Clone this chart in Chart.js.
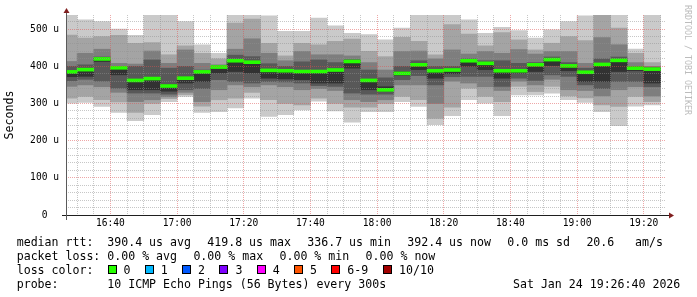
<!DOCTYPE html>
<html>
<head>
<meta charset="utf-8">
<script src="https://cdn.jsdelivr.net/npm/chart.js@4.4.1/dist/chart.umd.min.js"></script>
<style>
html,body{margin:0;padding:0;background:#fff;}
#wrap{position:relative;width:697px;height:297px;overflow:hidden;background:#fff;}
canvas{position:absolute;left:0;top:0;}
.t{position:absolute;font-family:'DejaVu Sans Mono',monospace;font-size:11.58px;line-height:14px;white-space:pre;color:#000;}
.box{position:absolute;width:9px;height:9px;border:1px solid #000;box-sizing:border-box;}
#wm{position:absolute;left:683px;top:5px;font-family:'DejaVu Sans Mono',monospace;font-size:8.3px;line-height:10px;color:#bcbcbc;writing-mode:vertical-rl;white-space:pre;}
</style>
</head>
<body>
<div id="wrap">
<canvas id="c" width="697" height="297"></canvas>
<div id="wm"></div>
</div>
<script>
// ---- data ----
const rangeStart = '16:26:40';
const rangeEnd   = '19:26:40';
const times = ['16:30','16:35','16:40','16:45','16:50','16:55','17:00','17:05','17:10','17:15','17:20','17:25',
               '17:30','17:35','17:40','17:45','17:50','17:55','18:00','18:05','18:10','18:15','18:20','18:25',
               '18:30','18:35','18:40','18:45','18:50','18:55','19:00','19:05','19:10','19:15','19:20','19:25'];
// sorted ping RTTs (microseconds), ping1 = fastest ... ping10 = slowest
const ping1  = [301,303,292,276,254,270,305,319,276,278,288,314,265,270,283,306,280,250,278,278,305,292,243,267,310,301,267,323,323,328,310,303,278,240,293,296];
const ping2  = [314,319,310,304,276,300,313,324,293,310,314,330,310,300,296,314,300,290,290,300,319,310,260,290,341,319,305,346,332,346,320,315,296,292,319,305];
const ping3  = [346,350,345,330,305,310,318,330,305,337,350,345,350,345,337,340,335,310,305,310,350,350,300,360,355,345,335,360,350,365,337,335,320,337,345,320];
const ping4  = [361,365,360,341,328,328,325,337,340,364,359,355,359,358,355,348,346,328,325,325,364,375,350,372,373,373,346,368,362,377,373,350,340,359,359,345];
const ping5  = [372,373,413,377,337,337,333,355,359,382,386,382,368,366,364,355,355,395,337,334,376,391,368,380,400,391,368,382,386,402,388,359,359,386,388,355];
const ping6  = [383,388,421,397,363,368,350,367,386,398,414,412,390,390,388,388,391,414,362,345,385,405,390,390,415,410,390,390,404,420,402,385,406,418,396,394];
const ping7  = [400,404,425,400,400,417,395,400,390,401,430,426,407,400,412,417,410,418,390,369,400,415,400,400,420,415,415,408,410,425,410,395,420,425,400,397];
const ping8  = [413,435,446,408,406,441,408,444,408,404,446,474,435,415,440,431,431,428,410,390,440,441,420,444,433,440,435,445,433,440,440,408,477,458,410,400];
const ping9  = [484,476,480,483,462,464,431,455,435,420,516,527,462,428,462,458,467,473,440,426,478,467,431,512,487,455,491,471,444,462,480,469,537,503,435,410];
const ping10 = [538,525,520,500,483,538,538,520,458,435,538,538,536,494,494,530,509,489,485,471,503,538,538,538,525,489,505,496,476,498,520,536,538,538,446,538];
const median = [385,391,419.8,396,362,367,347,368,385,398,415,411,389,388,386,386,390,413,362,336.7,381,404,388,390,415,408,388,388,404,418,401,384,405,416,395,392.4];
const yMax = 538;
const xTickLabels = ['16:40','17:00','17:20','17:40','18:00','18:20','18:40','19:00','19:20'];
const yTickLabels = ['0','100 u','200 u','300 u','400 u','500 u'];
const yTitle = 'Seconds';
const watermark = 'RRDTOOL / TOBI OETIKER';
const statsLine = ['median rtt:','390.4 us avg','419.8 us max','336.7 us min','392.4 us now','0.0 ms sd','20.6','am/s'];
const lossLine  = ['packet loss:','0.00 % avg','0.00 % max','0.00 % min','0.00 % now'];
const lossColorTitle = 'loss color:';
const lossLabels = ['0','1','2','3','4','5','6-9','10/10'];
const lossColors = ['#26ff00','#00b8ff','#0059ff','#7e00ff','#ff00ff','#ff5500','#ff0000','#a10000'];
const probeLine = ['probe:','10 ICMP Echo Pings (56 Bytes) every 300s','Sat Jan 24 19:26:40 2026'];

// ---- helpers ----
function toMin(s){ const p = s.split(':').map(Number); return (p[0]-16)*60 + p[1] + (p[2]||0)/60; }
function fmt(v){ const h = 16 + Math.floor(v/60), m = Math.round(v%60); return h + ':' + String(m).padStart(2,'0'); }
const centers = times.map(t => toMin(t) - 2.5);

const bands = [
  [ping1, ping10, '#cacaca'],
  [ping2, ping9,  '#a4a4a4'],
  [ping3, ping8,  '#7e7e7e'],
  [ping4, ping7,  '#585858'],
  [ping5, ping6,  '#323232']
];
const datasets = bands.map((b, j) => ({
  data: centers.map((x, i) => ({x: x, y: [b[0][i], b[1][i]]})),
  backgroundColor: b[2], borderWidth: 0, order: 10 - j
}));
const medHalf = 4;
datasets.push({
  data: centers.map((x, i) => ({x: x, y: [median[i] - medHalf, median[i] + medHalf]})),
  backgroundColor: lossColors[0], borderWidth: 0, order: 0
});

const minorGrid = 'rgba(143,143,143,0.5)';
const majorGrid = 'rgba(222,79,79,0.5)';
const monoFam = "'DejaVu Sans Mono', monospace";

const axesPlugin = {
  id: 'rrdAxes',
  afterDraw(chart){
    const {ctx, chartArea: a} = chart;
    ctx.save();
    ctx.lineWidth = 1;
    ctx.strokeStyle = '#1f1f1f';
    ctx.beginPath();
    ctx.moveTo(a.left - 4, a.bottom + 0.5);
    ctx.lineTo(a.right + 4, a.bottom + 0.5);
    ctx.stroke();
    ctx.strokeStyle = '#5a5a5a';
    ctx.beginPath();
    ctx.moveTo(a.left + 0.5, a.bottom + 5);
    ctx.lineTo(a.left + 0.5, a.top - 3);
    ctx.stroke();
    ctx.fillStyle = '#801f1f';
    ctx.beginPath();
    ctx.moveTo(a.left + 0.5, a.top - 7);
    ctx.lineTo(a.left - 2.5, a.top - 2);
    ctx.lineTo(a.left + 3.5, a.top - 2);
    ctx.closePath(); ctx.fill();
    ctx.beginPath();
    ctx.moveTo(a.right + 8, a.bottom + 0.5);
    ctx.lineTo(a.right + 3, a.bottom - 2.5);
    ctx.lineTo(a.right + 3, a.bottom + 3.5);
    ctx.closePath(); ctx.fill();
    ctx.restore();
  }
};

new Chart(document.getElementById('c'), {
  type: 'bar',
  data: { datasets },
  plugins: [axesPlugin],
  options: {
    responsive: false, animation: false, devicePixelRatio: 1, events: [],
    layout: { padding: { left: 0, right: 31, top: 15, bottom: 62 } },
    datasets: { bar: { grouped: false, barPercentage: 1, categoryPercentage: 1 } },
    plugins: { legend: { display: false }, tooltip: { enabled: false } },
    scales: {
      x: {
        type: 'linear', min: toMin(rangeStart), max: toMin(rangeEnd), offset: false,
        afterBuildTicks: s => { const t = []; for (let v = 30; v <= 205; v += 5) t.push({value: v}); s.ticks = t; },
        afterFit: s => { s.height = 20; },
        grid: { offset: false, drawTicks: false, z: 1, lineWidth: 1,
                color: c => (c.tick && c.tick.value % 20 === 0) ? majorGrid : minorGrid },
        border: { display: false, dash: [1,1] },
        ticks: { autoSkip: false, maxRotation: 0, minRotation: 0, padding: 3, color: '#000',
                 font: { family: monoFam, size: 9.6 },
                 callback: v => { const l = fmt(v); return (v % 20 === 0 && xTickLabels.includes(l)) ? l : ''; } }
      },
      y: {
        type: 'linear', min: 0, max: yMax,
        afterBuildTicks: s => { const t = []; for (let v = 0; v <= 520; v += 20) t.push({value: v}); s.ticks = t; },
        afterFit: s => { s.width = 66; },
        grid: { drawTicks: false, z: 1, lineWidth: 1,
                color: c => (c.tick && c.tick.value % 100 === 0) ? majorGrid : minorGrid },
        border: { display: false, dash: [1,1] },
        ticks: { autoSkip: false, padding: 7, color: '#000', font: { family: monoFam, size: 9.6 },
                 callback: v => { if (v % 100 !== 0) return ''; const l = yTickLabels[v/100]; return l.indexOf(' ') < 0 ? l + '  ' : l; } },
        title: { display: true, text: yTitle, color: '#000', font: { family: monoFam, size: 11.58 }, padding: { top: 3, bottom: 0 } }
      }
    }
  }
});

// ---- legend text (HTML) ----
const wrap = document.getElementById('wrap');
document.getElementById('wm').textContent = watermark;
function txt(s, x, y){ const d = document.createElement('div'); d.className = 't'; d.textContent = s; d.style.left = x + 'px'; d.style.top = y + 'px'; wrap.appendChild(d); return d; }
const rowTop = [234.5, 248.5, 262.5, 276.5];
const statX = [16.7, 107.3, 207.3, 307.3, 407.3, 507.3, 586.4, 635];
statsLine.forEach((s, i) => txt(s, statX[i], rowTop[0]));
const lossX = [16.7, 107.3, 193.4, 279.5, 365.6];
lossLine.forEach((s, i) => txt(s, lossX[i], rowTop[1]));
txt(lossColorTitle, 16.7, rowTop[2]);
const boxX = [107.5, 144.8, 182.1, 219.4, 256.7, 294, 331.3, 383];
lossLabels.forEach((s, i) => {
  const b = document.createElement('div'); b.className = 'box';
  b.style.left = boxX[i] + 'px'; b.style.top = '264.5px'; b.style.background = lossColors[i];
  wrap.appendChild(b);
  txt(s, boxX[i] + 16, rowTop[2]);
});
txt(probeLine[0], 16.7, rowTop[3]);
txt(probeLine[1], 107.3, rowTop[3]);
const dt = txt(probeLine[2], 0, rowTop[3]);
dt.style.left = ''; dt.style.right = (697 - 680.3) + 'px';
</script>
</body>
</html>
